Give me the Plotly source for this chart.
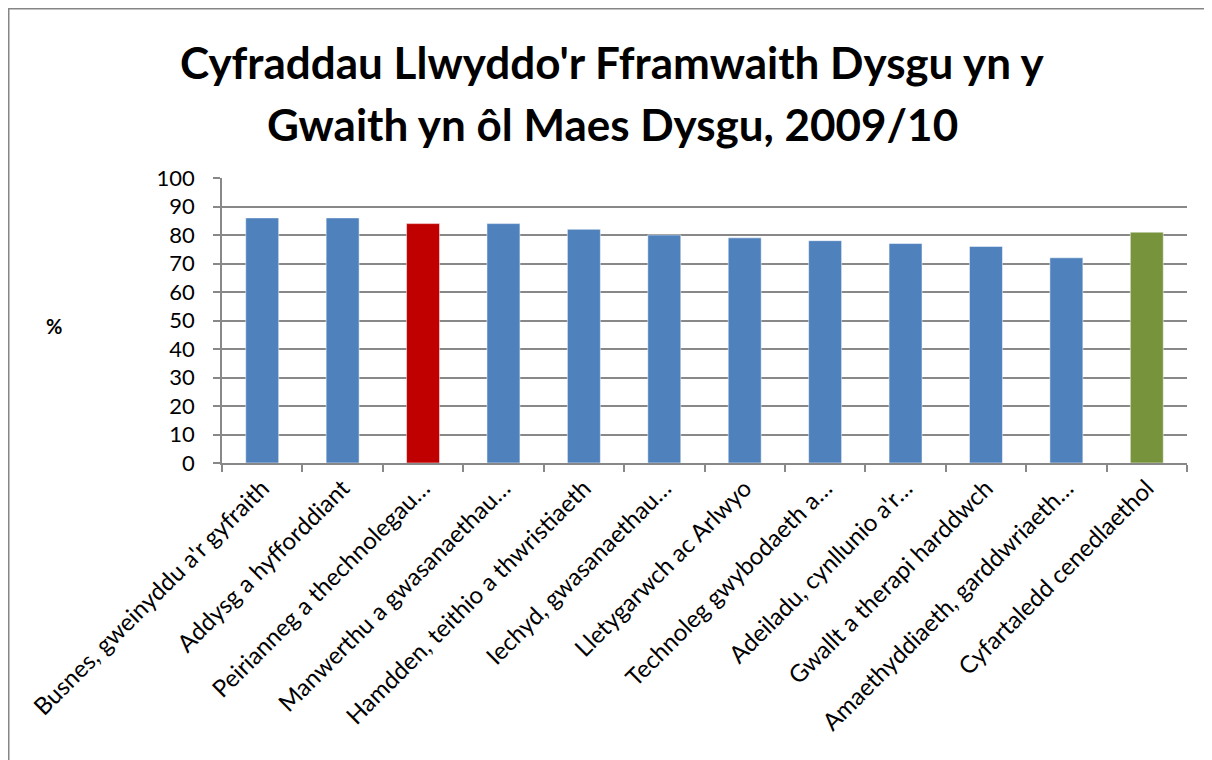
import plotly.graph_objects as go

categories = [
    "Busnes, gweinyddu a'r gyfraith",
    "Addysg a hyfforddiant",
    "Peirianneg a thechnolegau…",
    "Manwerthu a gwasanaethau…",
    "Hamdden, teithio a thwristiaeth",
    "Iechyd, gwasanaethau…",
    "Lletygarwch ac Arlwyo",
    "Technoleg gwybodaeth a…",
    "Adeiladu, cynllunio a'r…",
    "Gwallt a therapi harddwch",
    "Amaethyddiaeth, garddwriaeth…",
    "Cyfartaledd cenedlaethol",
]
values = [86, 86, 84, 84, 82, 80, 79, 78, 77, 76, 72, 81]
colors = ["#4F81BD", "#4F81BD", "#C00000", "#4F81BD", "#4F81BD", "#4F81BD",
          "#4F81BD", "#4F81BD", "#4F81BD", "#4F81BD", "#4F81BD", "#77933C"]
y_ticks = [0, 10, 20, 30, 40, 50, 60, 70, 80, 90, 100]
title_lines = ["Cyfraddau Llwyddo'r Fframwaith Dysgu yn y",
               "Gwaith yn ôl Maes Dysgu, 2009/10"]
y_label = "%"

# page has an 8px body margin, so the figure is drawn 8px in from the corner
OFF = 8
W, H = 1212 - OFF, 760 - OFF
L, R, T, B = 222 - OFF, 25, 178 - OFF, 297
pw, ph = W - L - R, H - T - B
FONT = "Lato, Open Sans, sans-serif"
GRID = "#888888"


def px_x(px):
    return (px - OFF - L) / pw


def px_y(py):
    return (H - B - (py - OFF)) / ph


fig = go.Figure(go.Bar(
    x=categories, y=values,
    marker=dict(color=colors, line=dict(color="rgba(255,255,255,0.5)", width=1)),
    width=0.41,
))

annotations = [
    dict(text=f"<b>{line}</b>", xref="paper", yref="paper",
         x=px_x(612), y=px_y(yc), xanchor="center", yanchor="middle", showarrow=False,
         font=dict(size=44, family=FONT, color="black"))
    for line, yc in zip(title_lines, [62, 124])
]
annotations.append(dict(text=f"<b>{y_label}</b>", xref="paper", yref="paper",
                        x=px_x(44), y=px_y(326), showarrow=False,
                        font=dict(size=20, family=FONT, color="black")))

fig.update_layout(
    width=W, height=H,
    margin=dict(l=L, r=R, t=T, b=B, autoexpand=False),
    paper_bgcolor="white", plot_bgcolor="white",
    showlegend=False,
    font=dict(family=FONT, color="black"),
    xaxis=dict(
        tickangle=-45, tickfont=dict(size=24, family=FONT),
        ticks="outside", tickson="boundaries", ticklen=7, tickcolor=GRID, tickwidth=1.5,
        showline=True, linecolor=GRID, linewidth=1.5, showgrid=False,
        automargin=False,
    ),
    yaxis=dict(
        range=[0, 100], tickvals=y_ticks, tickfont=dict(size=22, family=FONT),
        ticks="outside", ticklen=7, tickcolor=GRID, tickwidth=1.5,
        showline=True, linecolor=GRID, linewidth=1.5,
        showgrid=True, gridcolor=GRID, gridwidth=1.5, zeroline=False,
        ticklabelstandoff=14, automargin=False,
    ),
    annotations=annotations,
    shapes=[dict(type="rect", xref="paper", yref="paper",
                 x0=(0.5 - L) / pw, x1=(W + 20 - L) / pw,
                 y0=-(B + 20) / ph, y1=(H - B - 0.5) / ph,
                 line=dict(color="#868686", width=2), layer="below")],
)

fig.write_html("out.html")
